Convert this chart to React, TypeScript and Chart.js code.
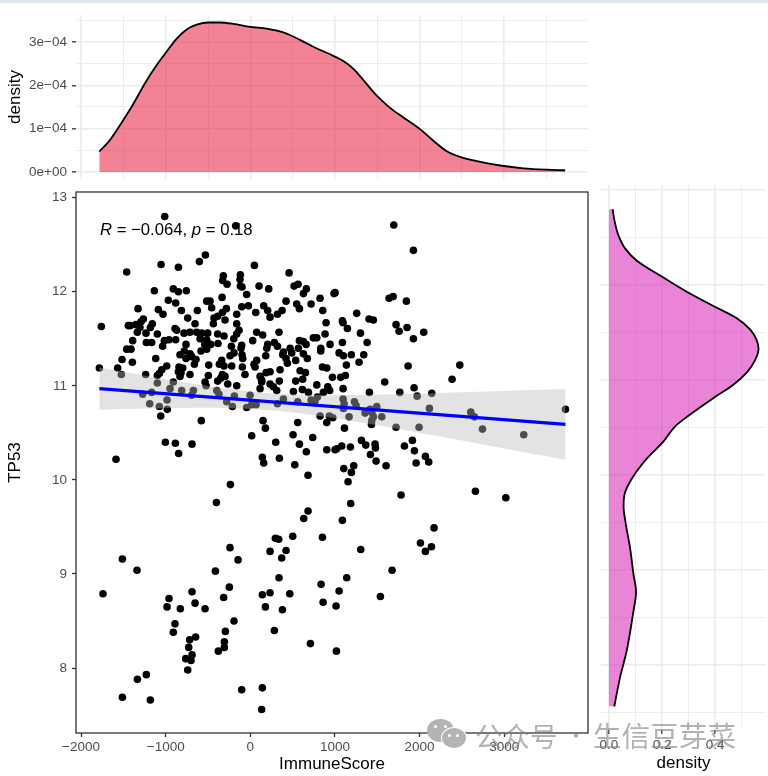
import React, { useEffect, useRef } from "react";
import { Chart, registerables } from "chart.js";

Chart.register(...registerables);

// ---- scatter values (ImmuneScore, TP53)
const immuneScore = [
  -1012,-173,-531,-602,-1055,-850,-1461,48,-319,-118,
  -326,-275,-122,-118,-98,458,103,217,564,517,
  662,627,-1134,-910,-850,-756,-43,-969,-882,-334,
  -516,-476,-457,422,824,548,580,718,-1327,-1087,
  -1032,-815,-626,-283,-102,-23,158,64,205,856,
  375,233,320,-330,-386,-429,-161,-740,-1264,-1292,
  -1761,-1442,-1418,-1351,-653,-437,-299,-161,895,-1158,
  -1181,-1304,-890,-870,-1233,-1335,-1099,-783,-713,-634,
  -575,-504,-386,-311,-133,-161,-196,75,146,339,
  883,785,745,-1390,-1016,-961,-882,-1229,-1166,-594,
  -516,-539,-468,-382,28,580,627,659,284,205,
  194,320,-1036,-760,-224,-102,-110,-1461,-1410,-780,
  -831,-583,-516,-713,-693,-642,-760,-1118,-193,-240,
  -98,-90,182,391,383,470,489,568,832,832,
  942,627,674,536,422,438,351,-1516,-1394,-661,
  -492,-338,-366,-311,-220,-94,75,44,56,-988,
  -1047,-1075,-1099,-843,-799,-850,-819,-1784,-1568,-1524,
  -1237,-713,-831,-496,-330,-299,-350,-386,-63,115,
  134,233,186,134,588,651,852,903,619,536,
  343,233,272,785,915,-535,-523,-267,-161,115,
  312,509,615,686,863,938,-1099,-910,-949,-811,
  -1272,-1166,-673,-693,-397,-370,-189,-3,-279,-212,
  -43,16,68,391,320,560,718,792,765,824,
  934,-1189,-984,-1075,-981,-1059,-579,150,178,560,
  903,
  1695,1927,989,1001,1640,1687,1844,1257,1088,1096,
  1403,1454,1722,1758,1852,1147,1301,2049,1927,1088,
  1380,1049,1100,1194,1340,1285,1135,1864,2475,1123,
  1068,970,2384,1588,1935,1096,1407,1766,1971,2144,
  1096,1108,1230,1250,1100,1494,1415,1356,1435,1454,
  1435,1553,2116,2605,2648,1167,974,3724,1431,1112,
  1722,1994,2743,
  -1587,-1004,-886,-689,-847,16,300,505,580,737,
  662,903,142,158,343,525,682,-236,-401,682,
  631,501,296,335,852,-240,-145,233,422,371,
  -1512,-1339,-413,339,836,-248,-1741,-689,-961,-315,
  233,142,466,-984,-827,-653,-535,178,379,860,
  -193,-890,-910,-295,284,710,-717,-646,-728,-307,
  -307,-378,-689,-764,-701,-740,-1229,-1335,-1512,-1181,
  -102,142,134,
  3231,1001,1021,1080,1183,1313,1364,1474,1478,1419,
  1486,1604,1821,1915,1939,1959,2069,2108,1104,1222,
  1194,1155,1781,2660,3019,1186,1088,2171,2010,2140,
  2069,1305,1675,1139,1049,1537,1013,1017,
];
const tp53 = [
  12.80,12.70,12.39,12.32,12.29,12.26,12.21,12.28,12.17,12.18,
  12.12,12.08,12.13,12.06,12.05,12.20,12.06,12.03,12.08,12.06,
  12.03,11.98,12.01,12.03,12.00,12.01,11.97,11.91,11.88,11.94,
  11.90,11.90,11.83,11.90,11.93,11.87,11.82,11.87,11.82,11.81,
  11.76,11.80,11.80,11.82,11.84,11.85,11.85,11.78,11.80,11.80,
  11.80,11.73,11.76,11.78,11.74,11.72,11.76,11.72,11.71,11.68,
  11.63,11.64,11.64,11.65,11.66,11.66,11.70,11.66,11.67,11.66,
  11.62,11.62,11.61,11.59,11.56,11.57,11.55,11.56,11.57,11.57,
  11.56,11.56,11.55,11.53,11.59,11.55,11.50,11.57,11.54,11.57,
  11.55,11.51,11.51,11.48,11.48,11.49,11.49,11.46,11.46,11.50,
  11.49,11.44,11.44,11.45,11.48,11.48,11.47,11.44,11.46,11.44,
  11.40,11.42,11.42,11.44,11.42,11.43,11.40,11.39,11.39,11.37,
  11.33,11.37,11.39,11.34,11.31,11.28,11.29,11.29,11.35,11.32,
  11.33,11.29,11.32,11.36,11.33,11.40,11.35,11.40,11.40,11.37,
  11.44,11.34,11.29,11.27,11.29,11.24,11.17,11.28,11.25,11.23,
  11.22,11.27,11.23,11.21,11.21,11.20,11.27,11.23,11.20,11.21,
  11.17,11.13,11.11,11.20,11.19,11.15,11.14,11.19,11.19,11.12,
  11.12,11.12,11.10,11.11,11.12,11.10,11.08,11.05,11.12,11.10,
  11.06,11.15,11.14,11.04,11.16,11.14,11.20,11.19,11.07,11.05,
  11.05,11.02,10.99,11.01,10.99,11.04,11.00,11.02,11.00,10.97,
  10.95,10.94,10.96,10.93,10.93,10.95,11.03,11.04,10.97,10.95,
  10.91,10.93,10.95,10.90,10.95,10.91,10.89,10.90,10.83,10.78,
  10.77,10.80,10.80,10.86,10.81,10.83,10.85,10.88,10.84,10.68,
  10.68,10.81,10.85,10.78,10.75,10.68,10.63,10.63,10.55,10.61,
  10.61,
  12.71,12.44,11.98,11.99,11.93,11.95,11.90,11.77,11.69,11.67,
  11.71,11.70,11.65,11.58,11.62,11.61,11.56,11.57,11.50,11.46,
  11.46,11.35,11.32,11.33,11.33,11.25,11.22,11.21,11.22,11.11,
  11.09,11.09,11.07,11.04,10.98,10.97,10.93,10.93,10.89,10.92,
  10.86,10.81,10.83,10.79,10.76,10.78,10.75,10.71,10.72,10.67,
  10.63,10.67,10.76,10.72,10.67,10.67,10.66,10.75,10.59,10.55,
  10.56,10.56,10.54,
  10.22,10.40,10.39,10.38,10.28,10.47,10.40,10.48,10.38,10.45,
  10.30,10.32,10.24,10.18,10.23,10.16,10.05,9.95,9.76,9.67,
  9.59,9.40,9.38,9.37,9.39,9.28,9.15,9.24,9.25,9.17,
  9.16,9.04,9.03,8.96,8.89,8.86,8.79,8.81,8.74,8.75,
  8.80,8.78,8.79,8.65,8.63,8.69,8.63,8.65,8.62,8.70,
  8.50,8.47,8.38,8.39,8.40,8.26,8.30,8.33,8.22,8.28,
  8.22,8.18,8.14,8.10,8.08,7.98,7.93,7.88,7.69,7.66,
  7.77,7.79,7.56,
  10.48,10.32,10.33,10.36,10.35,10.42,10.37,10.38,10.34,10.27,
  10.20,10.15,10.36,10.42,10.31,10.18,10.25,10.19,10.12,10.15,
  10.08,9.98,9.84,9.88,9.81,9.75,9.57,9.49,9.33,9.29,
  9.24,9.26,9.04,8.96,8.82,8.76,8.66,8.18,
];

// ---- regression line and its confidence ribbon
const fitX = [-1784, 3724];
const fitY = [10.97, 10.59];
const bandX = [-1784,-1400,-1000,-600,-200,200,600,1000,1400,1800,2200,2600,3000,3400,3724];
const bandUpper = [11.195,11.133,11.07,11.011,10.96,10.923,10.905,10.9,10.904,10.912,10.922,10.933,10.945,10.957,10.967];
const bandLower = [10.745,10.755,10.762,10.767,10.762,10.743,10.707,10.656,10.596,10.534,10.468,10.401,10.335,10.267,10.213];

// ---- top marginal density (ImmuneScore)
const topDensityX = [-1785,-1658,-1501,-1383,-1245,-1106,-988,-870,-752,-634,-496,-358,-201,-4,194,390,587,745,981,1099,1218,1336,1494,1651,1809,2006,2163,2321,2479,2676,2952,3227,3503,3720];
const topDensityY = [0.000047,0.000074,0.00012,0.000157,0.000205,0.000247,0.000278,0.000308,0.000329,0.00034,0.000345,0.000345,0.000342,0.000335,0.000331,0.000322,0.000305,0.000289,0.000268,0.000256,0.000238,0.000212,0.000176,0.000148,0.000126,0.000099,0.000072,0.000048,0.000035,0.000025,0.000015,0.0000085,0.0000053,0.000004];

// ---- right marginal density (TP53)
const rightDensityY = [7.56,7.87,8.15,8.56,8.77,8.96,9.24,9.49,9.67,9.81,9.96,10.17,10.35,10.51,10.61,10.81,10.95,11.08,11.21,11.33,11.42,11.53,11.65,11.78,11.93,12.09,12.26,12.39,12.53,12.69,12.80];
const rightDensityX = [0.02,0.042,0.067,0.092,0.102,0.092,0.079,0.063,0.055,0.06,0.086,0.142,0.205,0.249,0.293,0.394,0.469,0.52,0.551,0.564,0.557,0.533,0.482,0.394,0.293,0.199,0.104,0.06,0.035,0.02,0.0138];

// ---- axis ticks
const scoreTicks = [-2000,-1000,0,1000,2000,3000];
const scoreGrid = [-2000,-1500,-1000,-500,0,500,1000,1500,2000,2500,3000,3500];
const tp53Ticks = [8,9,10,11,12,13];
const tp53Grid = [7.5,8,8.5,9,9.5,10,10.5,11,11.5,12,12.5,13];
const topDensityGrid = [0,0.00005,0.0001,0.00015,0.0002,0.00025,0.0003,0.00035];
const rightDensityGrid = [0,0.1,0.2,0.3,0.4,0.5];

const annotation: [string, boolean][] = [["R", true], [" = \u22120.064, ", false], ["p", true], [" = 0.18", false]];

const FONT = "'Liberation Sans', Arial, sans-serif";
const TICK = "#4d4d4d";
const GRID = "#ebebeb";
const near = (v: number, step: number) => Math.abs(v / step - Math.round(v / step)) < 1e-6;
const minus = (v: number | string) => String(v).replace("-", "\u2212");

function useChart(make: (c: HTMLCanvasElement) => Chart) {
  const ref = useRef<HTMLCanvasElement>(null);
  useEffect(() => {
    const chart = make(ref.current!);
    return () => chart.destroy();
  }, []);
  return ref;
}

const fixTicks = (values: number[]) => (s: any) => { s.ticks = values.map((value) => ({ value })); };
const fixSize = (dim: "width" | "height", n: number) => (s: any) => {
  s[dim] = n;
  s.paddingLeft = s.paddingRight = s.paddingTop = s.paddingBottom = 0;
};
const gridOf = (major: number) => ({
  color: GRID,
  lineWidth: (c: any) => (near(c.tick.value, major) ? 1.6 : 0.9),
});

function TopChart() {
  const ref = useChart((c) => new Chart(c, {
    type: "line",
    data: {
      datasets: [{
        data: topDensityX.map((x, i) => ({ x, y: topDensityY[i] })),
        borderColor: "#000", borderWidth: 1.8, pointRadius: 0, cubicInterpolationMode: "monotone",
        fill: "origin", backgroundColor: "rgba(233,27,60,0.55)",
      }],
    },
    options: {
      responsive: false, animation: false,
      layout: { padding: { top: 15, right: 12, bottom: 11, left: 0 } },
      plugins: { legend: { display: false }, tooltip: { enabled: false } },
      scales: {
        x: {
          type: "linear", min: -2060, max: 3990, border: { display: false },
          afterBuildTicks: fixTicks(scoreGrid), afterFit: fixSize("height", 0),
          grid: { ...gridOf(1000), drawTicks: false },
          ticks: { display: false },
        },
        y: {
          min: -0.00001615, max: 0.0003623, border: { display: false },
          afterBuildTicks: fixTicks(topDensityGrid), afterFit: fixSize("width", 76),
          title: { display: true, text: "density", color: "#000", font: { family: FONT, size: 17 }, padding: { top: 5, bottom: 0 } },
          grid: {
            ...gridOf(0.0001), tickLength: 4, tickWidth: 1.3,
            tickColor: (c: any) => (near(c.tick.value, 0.0001) ? "#333" : "rgba(0,0,0,0)"),
          },
          ticks: {
            autoSkip: false, padding: 5, color: TICK, font: { family: FONT, size: 13.5 },
            callback: (v: any) => {
              if (!near(v, 0.0001)) return "";
              const n = Math.round(v / 0.0001);
              return n === 0 ? "0e+00" : `${n}e\u221204`;
            },
          },
        },
      },
    } as any,
  }));
  return <canvas ref={ref} width={600} height={190} style={{ position: "absolute", left: 0, top: 0, width: 600, height: 190 }} />;
}

const panelPlugin = {
  id: "panel",
  afterDatasetsDraw(chart: any) {
    const { ctx, chartArea: a } = chart;
    ctx.save();
    ctx.fillStyle = "#000";
    ctx.textBaseline = "alphabetic";
    let x = 100;
    const y = a.top + 43;
    for (const [s, it] of annotation) {
      ctx.font = `${it ? "italic " : ""}16.7px ${FONT}`;
      ctx.fillText(s, x, y);
      x += ctx.measureText(s).width;
    }
    ctx.strokeStyle = "#333";
    ctx.lineWidth = 1.3;
    ctx.strokeRect(a.left, a.top, a.right - a.left, a.bottom - a.top);
    ctx.restore();
  },
};

function MainChart() {
  const ref = useChart((c) => new Chart(c, {
    type: "scatter",
    data: {
      datasets: [
        {
          order: 3, data: immuneScore.map((x, i) => ({ x, y: tp53[i] })),
          pointRadius: 3.8, pointBackgroundColor: "#000", pointBorderWidth: 0, showLine: false,
        },
        {
          order: 1, type: "line", data: bandX.map((x, i) => ({ x, y: bandUpper[i] })),
          pointRadius: 0, borderWidth: 0, tension: 0.3, fill: "+1", backgroundColor: "rgba(188,188,188,0.41)",
        },
        {
          order: 2, type: "line", data: bandX.map((x, i) => ({ x, y: bandLower[i] })),
          pointRadius: 0, borderWidth: 0, tension: 0.3, fill: false,
        },
        {
          order: 0, type: "line", data: fitX.map((x, i) => ({ x, y: fitY[i] })),
          pointRadius: 0, borderWidth: 3.3, borderColor: "#0000ff", fill: false,
        },
      ],
    },
    options: {
      responsive: false, animation: false,
      layout: { padding: { top: 7, right: 12, bottom: 0, left: 0 } },
      plugins: { legend: { display: false }, tooltip: { enabled: false } },
      scales: {
        x: {
          type: "linear", min: -2060, max: 3990, border: { display: false },
          afterBuildTicks: fixTicks(scoreTicks), afterFit: fixSize("height", 43),
          title: { display: true, text: "ImmuneScore", color: "#000", font: { family: FONT, size: 17 }, padding: { top: 0, bottom: 1 } },
          grid: { drawOnChartArea: false, tickLength: 4, tickWidth: 1.3, tickColor: "#333" },
          ticks: {
            autoSkip: false, maxRotation: 0, padding: 2, color: TICK,
            font: { family: FONT, size: 13.5 }, callback: (v: any) => minus(v),
          },
        },
        y: {
          min: 7.31, max: 13.06, border: { display: false },
          afterBuildTicks: fixTicks(tp53Ticks), afterFit: fixSize("width", 76),
          title: { display: true, text: "TP53", color: "#000", font: { family: FONT, size: 17 }, padding: { top: 5, bottom: 0 } },
          grid: { drawOnChartArea: false, tickLength: 4, tickWidth: 1.3, tickColor: "#333" },
          ticks: { autoSkip: false, padding: 5, color: TICK, font: { family: FONT, size: 13.5 } },
        },
      },
    } as any,
    plugins: [panelPlugin],
  }));
  return <canvas ref={ref} width={600} height={591} style={{ position: "absolute", left: 0, top: 185, width: 600, height: 591 }} />;
}

function RightChart() {
  const ref = useChart((c) => new Chart(c, {
    type: "line",
    data: {
      datasets: [{
        indexAxis: "y",
        data: rightDensityY.map((y, i) => ({ x: rightDensityX[i], y })),
        borderColor: "#000", borderWidth: 1.8, pointRadius: 0, cubicInterpolationMode: "monotone",
        fill: "origin", backgroundColor: "rgba(215,31,180,0.55)",
      }],
    },
    options: {
      indexAxis: "y",
      responsive: false, animation: false,
      layout: { padding: { top: 5, right: 2.3, bottom: 0, left: 6.3 } },
      plugins: { legend: { display: false }, tooltip: { enabled: false } },
      scales: {
        x: {
          type: "linear", min: -0.029, max: 0.591, border: { display: false },
          afterBuildTicks: fixTicks(rightDensityGrid), afterFit: fixSize("height", 46),
          title: { display: true, text: "density", color: "#000", font: { family: FONT, size: 17 }, padding: { top: 0, bottom: 2 } },
          grid: {
            ...gridOf(0.2), tickLength: 4, tickWidth: 1.3,
            tickColor: (c: any) => (near(c.tick.value, 0.2) ? "#333" : "rgba(0,0,0,0)"),
          },
          ticks: {
            autoSkip: false, maxRotation: 0, padding: 3, color: TICK, font: { family: FONT, size: 13.5 },
            callback: (v: any) => (near(v, 0.2) ? Number(v).toFixed(1) : ""),
          },
        },
        y: {
          type: "linear", min: 7.312, max: 13.055, border: { display: false },
          afterBuildTicks: fixTicks(tp53Grid), afterFit: fixSize("width", 0),
          grid: { ...gridOf(1), drawTicks: false },
          ticks: { display: false },
        },
      },
    } as any,
  }));
  return <canvas ref={ref} width={173} height={596} style={{ position: "absolute", left: 595, top: 180, width: 173, height: 596 }} />;
}

const wm: React.CSSProperties = {
  position: "absolute", color: "rgba(130,130,130,0.62)", fontFamily: "'Noto Sans CJK SC', sans-serif",
  whiteSpace: "nowrap", lineHeight: "30px",
};
const bubble = (l: number, t: number, w: number, h: number, ring = false): React.CSSProperties => ({
  position: "absolute", left: l, top: t, width: w, height: h, borderRadius: "50%", background: "#b4b4b4",
  boxSizing: "content-box", border: ring ? "1.5px solid #fff" : "none",
});
const eye = (l: number, t: number): React.CSSProperties => ({
  position: "absolute", left: l, top: t, width: 3, height: 3, borderRadius: "50%", background: "#fff",
});

export default function App() {
  return (
    <div style={{ position: "absolute", left: 0, top: 0, width: 768, height: 776, background: "#fff", overflow: "hidden" }}>
      <div style={{ position: "absolute", left: 0, top: 0, width: 768, height: 3, background: "#dfe6ed" }} />
      <TopChart />
      <MainChart />
      <RightChart />
      <div style={bubble(427, 719, 27, 23)} />
      <div style={eye(434, 725)} />
      <div style={eye(444, 725)} />
      <div style={bubble(441, 727, 24, 20, true)} />
      <div style={eye(448, 734)} />
      <div style={eye(456, 734)} />
      <div style={{ ...wm, left: 475, top: 720, fontSize: 27.5 }}>公众号</div>
      <div style={{ ...wm, left: 565, top: 718, fontSize: 22 }}>·</div>
      <div style={{ ...wm, left: 593, top: 720, fontSize: 28.6 }}>生信豆芽菜</div>
    </div>
  );
}
